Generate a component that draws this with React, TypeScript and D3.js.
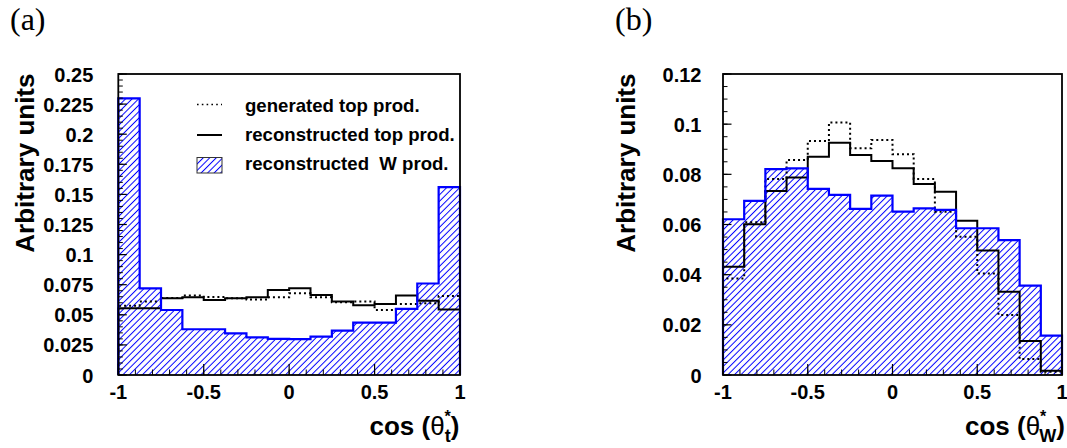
import React from 'react';
import * as d3 from 'd3';

// ---------- data ----------
const BIN_EDGES = [-1, -0.875, -0.75, -0.625, -0.5, -0.375, -0.25, -0.125, 0, 0.125, 0.25, 0.375, 0.5, 0.625, 0.75, 0.875, 1];

// panel (a): cos(theta_t*)
const genTopA = [0.0575, 0.061, 0.064, 0.066, 0.0648, 0.0637, 0.0628, 0.0645, 0.0678, 0.0645, 0.0604, 0.061, 0.054, 0.059, 0.0595, 0.0656];
const recoTopA = [0.0554, 0.0554, 0.0637, 0.0645, 0.0623, 0.0637, 0.0645, 0.0706, 0.072, 0.0664, 0.061, 0.058, 0.059, 0.066, 0.0617, 0.0545];
const recoWA = [0.2298, 0.072, 0.054, 0.038, 0.038, 0.0346, 0.0313, 0.030, 0.0298, 0.0318, 0.0368, 0.0435, 0.0435, 0.055, 0.076, 0.156];

// panel (b): cos(theta_W*)
const genTopB = [0.0385, 0.0609, 0.0781, 0.0857, 0.0933, 0.1007, 0.0904, 0.0937, 0.088, 0.0781, 0.0651, 0.0551, 0.0405, 0.0239, 0.0064, 0.0013];
const recoTopB = [0.0432, 0.0601, 0.0734, 0.0787, 0.087, 0.0926, 0.0877, 0.0853, 0.0824, 0.0761, 0.0731, 0.0615, 0.0496, 0.0332, 0.0136, 0.0017];
const recoWB = [0.0621, 0.0694, 0.0821, 0.0824, 0.0742, 0.0718, 0.0662, 0.0715, 0.0651, 0.0664, 0.0658, 0.0585, 0.0585, 0.0538, 0.0356, 0.0157];

const X_TICKS = [-1, -0.5, 0, 0.5, 1];
const X_TICK_LABELS = ['-1', '-0.5', '0', '0.5', '1'];
const Y_TICKS_A = [0, 0.025, 0.05, 0.075, 0.1, 0.125, 0.15, 0.175, 0.2, 0.225, 0.25];
const Y_TICK_LABELS_A = ['0', '0.025', '0.05', '0.075', '0.1', '0.125', '0.15', '0.175', '0.2', '0.225', '0.25'];
const Y_TICKS_B = [0, 0.02, 0.04, 0.06, 0.08, 0.1, 0.12];
const Y_TICK_LABELS_B = ['0', '0.02', '0.04', '0.06', '0.08', '0.1', '0.12'];

const LEGEND_LABELS = ['generated top prod.', 'reconstructed top prod.', 'reconstructed  W prod.'];

const SANS = 'Liberation Sans, Arial, Helvetica, sans-serif';
const BLUE = '#0000ff';

type Pt = [number, number];

function stepPoints(values: number[]): Pt[] {
  const pts: Pt[] = [[BIN_EDGES[0], 0]];
  values.forEach((v, i) => {
    pts.push([BIN_EDGES[i], v]);
    pts.push([BIN_EDGES[i + 1], v]);
  });
  pts.push([BIN_EDGES[BIN_EDGES.length - 1], 0]);
  return pts;
}

interface PanelProps {
  x0: number; x1: number; yTop: number; yBot: number;
  yMax: number; yTicks: number[]; yLabels: string[];
  labelGap: number; titleX: number; xTitleEnd: number;
  gen: number[]; reco: number[]; w: number[];
  sub: string; subDx: number; letter: string; letterX: number;
  legend?: boolean;
}

function Panel(p: PanelProps) {
  const xs = d3.scaleLinear().domain([-1, 1]).range([p.x0, p.x1]);
  const ys = d3.scaleLinear().domain([0, p.yMax]).range([p.yBot, p.yTop]);
  const line = d3.line<Pt>().x(d => xs(d[0])).y(d => ys(d[1]));
  const minorY = d3.range(0, p.yMax + 1e-9, 0.005);
  const minorX = d3.range(-1, 1 + 1e-9, 0.1);
  const wPath = line(stepPoints(p.w)) || '';
  return (
    <g>
      <path d={wPath + 'Z'} fill="url(#hatch)" stroke="none" />
      <path d={line(stepPoints(p.gen)) || ''} fill="none" stroke="#000" strokeWidth={2} strokeDasharray="2 3" />
      <path d={line(stepPoints(p.reco)) || ''} fill="none" stroke="#000" strokeWidth={2} />
      <path d={wPath} fill="none" stroke={BLUE} strokeWidth={2.2} />
      <rect x={p.x0} y={p.yTop} width={p.x1 - p.x0} height={p.yBot - p.yTop} fill="none" stroke="#000" strokeWidth={1.8} />
      {/* y ticks */}
      {minorY.map((v, i) => (
        <line key={'my' + i} x1={p.x0} x2={p.x0 + 4.5} y1={ys(v)} y2={ys(v)} stroke="#000" strokeWidth={1} />
      ))}
      {p.yTicks.map((v, i) => (
        <line key={'My' + i} x1={p.x0} x2={p.x0 + 8.5} y1={ys(v)} y2={ys(v)} stroke="#000" strokeWidth={1.2} />
      ))}
      {p.yTicks.map((v, i) => (
        <text key={'ly' + i} x={p.x0 - p.labelGap} y={ys(v) + 7.5} textAnchor="end" fontFamily={SANS} fontWeight="bold" fontSize={20} fill="#000">{p.yLabels[i]}</text>
      ))}
      {/* x ticks */}
      {minorX.map((v, i) => (
        <line key={'mx' + i} x1={xs(v)} x2={xs(v)} y1={p.yBot} y2={p.yBot - 5.5} stroke="#000" strokeWidth={1} />
      ))}
      {X_TICKS.map((v, i) => (
        <line key={'Mx' + i} x1={xs(v)} x2={xs(v)} y1={p.yBot} y2={p.yBot - 11} stroke="#000" strokeWidth={1.2} />
      ))}
      {X_TICKS.map((v, i) => (
        <text key={'lx' + i} x={xs(v)} y={398.5} textAnchor="middle" fontFamily={SANS} fontWeight="bold" fontSize={20} fill="#000">{X_TICK_LABELS[i]}</text>
      ))}
      {/* axis titles */}
      <text transform={`translate(${p.titleX},${p.yTop - 0.5}) rotate(-90)`} textAnchor="end" fontFamily={SANS} fontWeight="bold" fontSize={26} fill="#000">Arbitrary units</text>
      <text x={p.xTitleEnd} y={434.5} textAnchor="end" fontFamily={SANS} fontWeight="bold" fontSize={26} fill="#000">
        cos (<tspan fontWeight="normal">θ</tspan><tspan fontSize={16} dy={-13}>*</tspan><tspan fontSize={18} dx={p.subDx} dy={20}>{p.sub}</tspan><tspan dy={-7}>)</tspan>
      </text>
      <text x={p.letterX} y={30} fontFamily="Liberation Serif, Times New Roman, serif" fontSize={32} fill="#000">{p.letter}</text>
      {p.legend && (
        <g>
          <line x1={197} x2={222} y1={104.5} y2={104.5} stroke="#000" strokeWidth={1.6} strokeDasharray="1.6 3.2" />
          <line x1={197} x2={222} y1={135} y2={135} stroke="#000" strokeWidth={2} />
          <rect x={197} y={157.5} width={25} height={15.5} fill="url(#hatch)" stroke="#333" strokeWidth={1} />
          {LEGEND_LABELS.map((t, i) => (
            <text key={'lg' + i} x={245} y={111.8 + i * 29.3} fontFamily={SANS} fontWeight="bold" fontSize={18.6} fill="#000" style={{ whiteSpace: 'pre' }}>{t}</text>
          ))}
        </g>
      )}
    </g>
  );
}

export default function App() {
  return (
    <svg width={1067} height={448} style={{ position: 'absolute', left: 0, top: 0, background: '#fff' }}>
      <defs>
        <pattern id="hatch" patternUnits="userSpaceOnUse" width={4.6} height={10} patternTransform="rotate(45)">
          <line x1={2.3} y1={0} x2={2.3} y2={10} stroke={BLUE} strokeWidth={1} />
        </pattern>
      </defs>
      <rect x={0} y={0} width={1067} height={448} fill="#fff" />
      <Panel x0={118.3} x1={460} yTop={74} yBot={375} yMax={0.25} yTicks={Y_TICKS_A} yLabels={Y_TICK_LABELS_A}
        labelGap={25} titleX={33.5} xTitleEnd={459.5} gen={genTopA} reco={recoTopA} w={recoWA}
        sub="t" subDx={-6} letter="(a)" letterX={10} legend />
      <Panel x0={723} x1={1062} yTop={74} yBot={375} yMax={0.12} yTicks={Y_TICKS_B} yLabels={Y_TICK_LABELS_B}
        labelGap={21.5} titleX={635} xTitleEnd={1065} gen={genTopB} reco={recoTopB} w={recoWB}
        sub="W" subDx={-7} letter="(b)" letterX={615} />
    </svg>
  );
}
